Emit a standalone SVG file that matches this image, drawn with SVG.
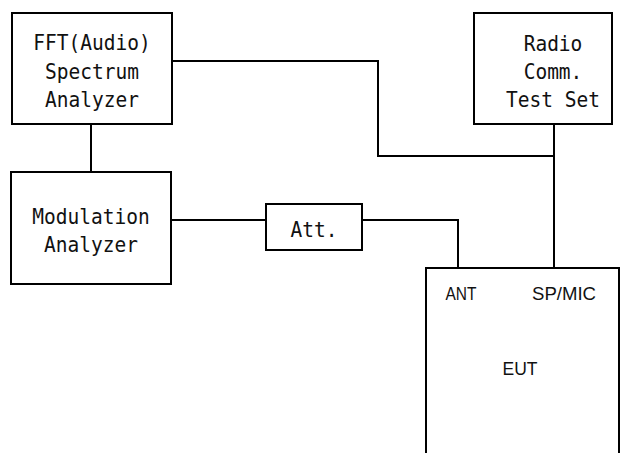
<svg xmlns="http://www.w3.org/2000/svg" width="623" height="453" viewBox="0 0 623 453">
<style>
.box{fill:#fff;stroke:#000;stroke-width:2}
.wire{fill:none;stroke:#000;stroke-width:2}
.m{font-family:"DejaVu Sans Mono","Liberation Mono",monospace;font-size:22px;fill:#111;text-anchor:middle}
.s{font-family:"Liberation Sans",Arial,sans-serif;font-size:19px;fill:#111;text-anchor:middle}
</style>
<rect width="623" height="453" fill="#fff"/>
<g id="connectors">
<polyline class="wire" points="172,61 378,61 378,156 554,156"/>
<line class="wire" x1="554" y1="124" x2="554" y2="268"/>
<line class="wire" x1="91" y1="124" x2="91" y2="172"/>
<line class="wire" x1="171" y1="220" x2="266" y2="220"/>
<polyline class="wire" points="362,220 458,220 458,268"/>
</g>
<g id="fft">
<rect class="box" x="12" y="13" width="160" height="111"/>
<text class="m" transform="translate(92,50) scale(0.887,1)">FFT(Audio)</text>
<text class="m" transform="translate(92,79) scale(0.887,1)">Spectrum</text>
<text class="m" transform="translate(92,107) scale(0.887,1)">Analyzer</text>
</g>
<g id="radio">
<rect class="box" x="474" y="13" width="138" height="111"/>
<text class="m" transform="translate(553,51) scale(0.887,1)">Radio</text>
<text class="m" transform="translate(553,79) scale(0.887,1)">Comm.</text>
<text class="m" transform="translate(553,107) scale(0.887,1)">Test Set</text>
</g>
<g id="modulation">
<rect class="box" x="11" y="172" width="160" height="112"/>
<text class="m" transform="translate(91,224) scale(0.887,1)">Modulation</text>
<text class="m" transform="translate(91,252) scale(0.887,1)">Analyzer</text>
</g>
<g id="att">
<rect class="box" x="266" y="204" width="96" height="46"/>
<text class="m" transform="translate(314,237) scale(0.887,1)">Att.</text>
</g>
<g id="eut">
<rect class="box" x="426" y="268" width="193" height="200"/>
<text class="s" x="461" y="300" textLength="31" lengthAdjust="spacingAndGlyphs">ANT</text>
<text class="s" x="564" y="300" textLength="64" lengthAdjust="spacingAndGlyphs">SP/MIC</text>
<text class="s" x="520" y="375" textLength="35" lengthAdjust="spacingAndGlyphs">EUT</text>
</g>
</svg>
